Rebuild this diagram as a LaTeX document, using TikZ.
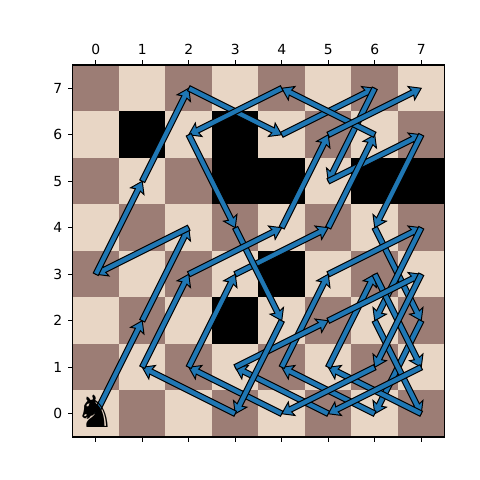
\documentclass[tikz,border=0pt]{standalone}
\usepackage{fontspec}
\setmainfont{DejaVu Sans}
\usetikzlibrary{calc}

\definecolor{darksq}{HTML}{9C7D75}
\definecolor{lightsq}{HTML}{E8D6C5}
\definecolor{moveblue}{HTML}{1F77B4}

\tikzset{
    sq/.style={minimum size=33.48pt, inner sep=0pt, outer sep=0pt, draw=none},
    tick/.style={line width=.8pt, black},
    ticklabel/.style={font=\fontsize{10}{12}\selectfont, inner sep=0pt},
    jump/.style={
        draw=black, fill=moveblue, line width=.7pt, line join=miter,
        to path={
            ($(\tikztostart)!2pt!90:(\tikztotarget)$)
            -- ($(\tikztotarget)!7pt!(\tikztostart)!2pt!-90:(\tikztostart)$)
            -- ($(\tikztotarget)!8pt!(\tikztostart)!5.4pt!-90:(\tikztostart)$)
            -- (\tikztotarget)
            -- ($(\tikztotarget)!8pt!(\tikztostart)!5.4pt!90:(\tikztostart)$)
            -- ($(\tikztotarget)!7pt!(\tikztostart)!2pt!90:(\tikztostart)$)
            -- ($(\tikztostart)!2pt!-90:(\tikztotarget)$)
            -- cycle
        }
    }
}

\begin{document}
\begin{tikzpicture}[x=33.48pt, y=33.48pt]
    \useasboundingbox (-2.059,-1.425) rectangle (8.264,8.898);
    % squares, named c-r
    \foreach \c in {0,...,7}
        \foreach \r in {0,...,7} {
            \pgfmathsetmacro{\odd}{int(mod(\c+\r,2))}
            \ifnum\odd=1
                \node[sq, fill=darksq] (s\c-\r) at (\c,\r) {};
            \else
                \node[sq, fill=lightsq] (s\c-\r) at (\c,\r) {};
            \fi
        }
    % blocked squares
    \foreach \c/\r in {1/6,3/6,3/5,4/5,6/5,7/5,4/3,3/2}
        \node[sq, fill=black] at (\c,\r) {};
    % frame and ticks
    \node[sq, minimum size=267.84pt, draw=black, line width=.8pt] (board) at (3.5,3.5) {};
    \foreach \i in {0,...,7} {
        \coordinate (tt\i) at (\i,7.5);
        \coordinate (tb\i) at (\i,-.5);
        \coordinate (tl\i) at (-.5,\i);
        \draw[tick] (tt\i) -- ++(0,3.5pt) node[ticklabel, above=3.5pt] (lt\i) {\i};
        \draw[tick] (tb\i) -- ++(0,-3.5pt);
        \draw[tick] (tl\i) -- ++(-3.5pt,0) node[ticklabel, left=3.5pt] (ll\i) {\i};
    }
    % the moves
    \foreach \a/\b/\c/\d in {0/0/1/2, 1/2/2/4, 2/4/0/3, 0/3/1/5, 1/5/2/7, 2/7/4/6, 4/6/6/7, 6/7/5/5,
        5/5/7/6, 7/6/6/4, 6/4/7/2, 7/2/6/0, 6/0/4/1, 4/1/5/3, 5/3/7/4, 7/4/6/2, 6/2/7/0, 7/0/5/1,
        5/1/6/3, 6/3/7/1, 7/1/5/0, 5/0/3/1, 3/1/5/2, 5/2/7/3, 7/3/6/1, 6/1/4/0, 4/0/2/1, 2/1/3/3,
        3/3/5/4, 5/4/6/6, 6/6/4/7, 4/7/2/6, 2/6/3/4, 3/4/4/2, 4/2/3/0, 3/0/1/1, 1/1/2/3, 2/3/4/4,
        4/4/5/6, 5/6/7/7}
        \draw[jump] (s\a-\b.center) to (s\c-\d.center);
    % knight on top
    \node[inner sep=0pt, font=\fontsize{32}{32}\selectfont] (knight) at (0,.05) {♞};
\end{tikzpicture}
\end{document}
